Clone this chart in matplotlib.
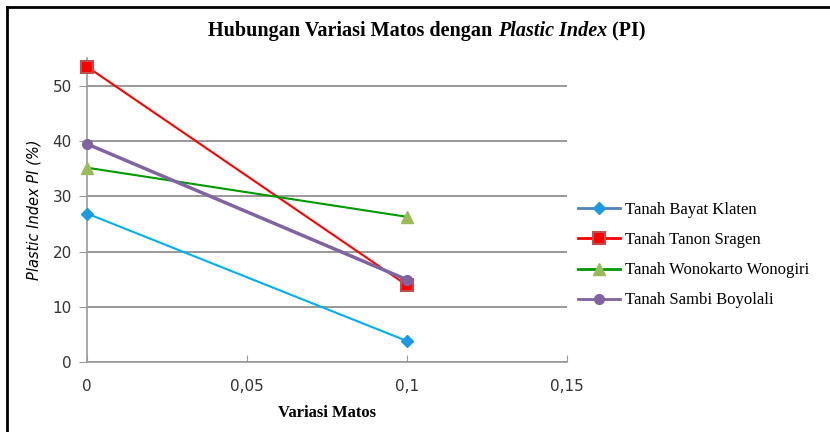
import matplotlib
matplotlib.use("Agg")
import matplotlib.pyplot as plt
from matplotlib.lines import Line2D

x_vals = [0, 0.1]
series_names = ["Tanah Bayat Klaten", "Tanah Tanon Sragen",
                "Tanah Wonokarto Wonogiri", "Tanah Sambi Boyolali"]
bayat = [26.9, 3.8]
tanon = [53.5, 13.9]
wonokarto = [35.2, 26.3]
sambi = [39.5, 14.9]
x_ticks = [0, 0.05, 0.1, 0.15]
x_tick_labels = ["0", "0,05", "0,1", "0,15"]
y_ticks = [0, 10, 20, 30, 40, 50]

fig = plt.figure(figsize=(8.3, 4.32), dpi=100)
ax = fig.add_axes([87/830, 1-362/432, (567-87)/830, (362-58.4)/432])

styles = [
    dict(color="#00B0F0", marker="D", mfc="#1E9BE0", mec="#1E9BE0", ms=6, lw=1.5),
    dict(color="#FF0000", marker="s", mfc="#FF0000", mec="#C0504D", ms=8, mew=1.5, lw=1.5),
    dict(color="#009900", marker="^", mfc="#9BBB59", mec="#9BBB59", ms=9, lw=1.5),
    dict(color="#8064A2", marker="o", mfc="#8064A2", mec="#8064A2", ms=7, lw=2.5),
]
data = [bayat, tanon, wonokarto, sambi]
for name, vals, st in zip(series_names, data, styles):
    ax.plot(x_vals, vals, label=name, zorder=3, clip_on=False, **st)

ax.set_xlim(0, 0.15)
ax.set_ylim(0, 55)
ax.set_xticks(x_ticks)
ax.set_xticklabels(x_tick_labels)
ax.set_yticks(y_ticks)
ax.yaxis.grid(True, color="#868686", lw=1.2)
ax.set_axisbelow(True)
for s in ["top", "right"]:
    ax.spines[s].set_visible(False)
for s in ["left", "bottom"]:
    ax.spines[s].set_color("#9A9A9A")
    ax.spines[s].set_linewidth(1.2)
ax.tick_params(axis="x", direction="in", length=5, color="#9A9A9A", labelsize=11,
               labelcolor="#333333", pad=12)
ax.tick_params(axis="y", direction="out", length=6, color="#9A9A9A", labelsize=11,
               labelcolor="#333333", pad=5)

ax.set_xlabel("Variasi Matos", family="Liberation Serif", fontweight="bold",
              fontsize=12, labelpad=8)
ax.set_ylabel("Plastic Index PI (%)", style="italic", fontsize=10.5, labelpad=8)

# Title in pieces (bold + bold italic)
tsize = 14.5
t1 = fig.text(0.0, 1-31/432, "Hubungan Variasi Matos dengan ", family="Liberation Serif",
              fontweight="bold", fontsize=tsize, va="center", ha="left")
t2 = fig.text(0.0, 1-31/432, "Plastic Index", family="Liberation Serif",
              fontweight="bold", style="italic", fontsize=tsize, va="center", ha="left")
t3 = fig.text(0.0, 1-31/432, " (PI)", family="Liberation Serif",
              fontweight="bold", fontsize=tsize, va="center", ha="left")
fig.canvas.draw()
r = fig.canvas.get_renderer()
w1 = t1.get_window_extent(r).width
w2 = t2.get_window_extent(r).width
w3 = t3.get_window_extent(r).width
total = w1 + w2 + w3
x0 = 427 - total/2
t1.set_x(x0/830)
t2.set_x((x0+w1)/830)
t3.set_x((x0+w1+w2)/830)

# Legend
handles = [Line2D([0], [0], **st) for st in styles]
handles[0].set_color("#4F81BD")
for h in handles:
    h.set_linewidth(2)
leg = fig.legend(handles, series_names, loc="upper left",
                 bbox_to_anchor=(578/830, 1-202/432), frameon=False,
                 prop={"family": "Liberation Serif", "size": 12},
                 handlelength=2.5, handletextpad=0.3, labelspacing=0.85,
                 borderaxespad=0, borderpad=0)

# Outer border (left and top)
fig.add_artist(Line2D([7/830, 7/830], [0, 1-7/432], transform=fig.transFigure,
                      color="black", lw=2))
fig.add_artist(Line2D([7/830, 1], [1-7/432, 1-7/432], transform=fig.transFigure,
                      color="black", lw=2))

fig.savefig("out.png", dpi=100)
